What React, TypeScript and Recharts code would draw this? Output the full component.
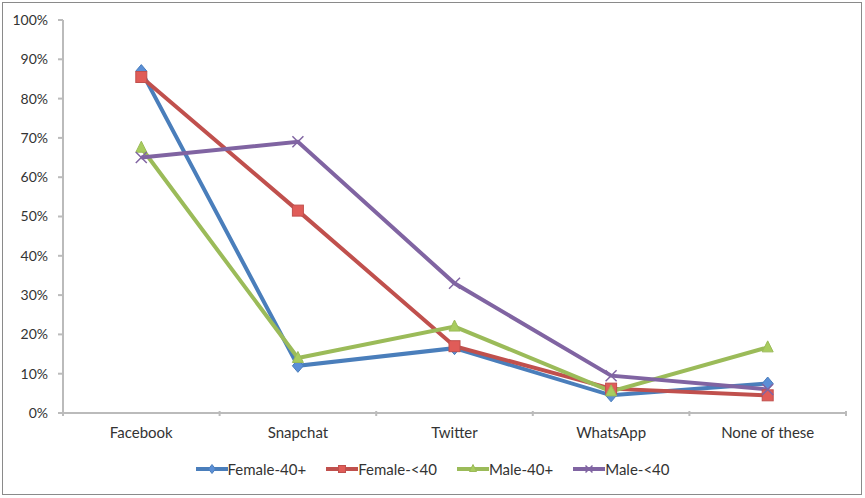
import React from 'react';
import { LineChart, Line, XAxis, YAxis } from 'recharts';

const categories = ['Facebook', 'Snapchat', 'Twitter', 'WhatsApp', 'None of these'];
const female40plus = [0.87, 0.12, 0.165, 0.045, 0.075];
const femaleUnder40 = [0.855, 0.515, 0.17, 0.062, 0.045];
const male40plus = [0.675, 0.14, 0.22, 0.055, 0.167];
const maleUnder40 = [0.65, 0.69, 0.33, 0.095, 0.06];
const yTicks = [0, 0.1, 0.2, 0.3, 0.4, 0.5, 0.6, 0.7, 0.8, 0.9, 1];

const seriesList = [
  { key: 'f40p', name: 'Female-40+', values: female40plus, color: '#4A7EBB', fill: '#5B8FD6', shape: 'diamond' },
  { key: 'f40m', name: 'Female-<40', values: femaleUnder40, color: '#C0504D', fill: '#E05C58', shape: 'square' },
  { key: 'm40p', name: 'Male-40+', values: male40plus, color: '#9BBB59', fill: '#A8CC5E', shape: 'triangle' },
  { key: 'm40m', name: 'Male-<40', values: maleUnder40, color: '#8064A2', fill: '#8C6FB3', shape: 'cross' },
];

const data = categories.map((name, i) => {
  const row: any = { name };
  seriesList.forEach((s) => {
    row[s.key] = s.values[i];
  });
  return row;
});

const W = 865;
const H = 498;
const LEFT = 63;
const RIGHT = 19;
const BAND = (W - LEFT - RIGHT) / categories.length;
const FONT = 'Lato, "Open Sans", sans-serif';

// marker shapes shared by dots and legend
const Marker = ({ cx, cy, shape, color, fill, r = 5.5 }: any) => {
  if (cx == null || cy == null) return null;
  if (shape === 'diamond') {
    return (
      <polygon
        points={`${cx},${cy - r - 1} ${cx + r},${cy} ${cx},${cy + r + 1} ${cx - r},${cy}`}
        fill={fill}
        stroke={color}
        strokeWidth={1}
      />
    );
  }
  if (shape === 'square') {
    return <rect x={cx - r} y={cy - r} width={r * 2} height={r * 2} fill={fill} stroke={color} strokeWidth={1} />;
  }
  if (shape === 'triangle') {
    return (
      <polygon
        points={`${cx},${cy - r - 1} ${cx + r},${cy + r - 1} ${cx - r},${cy + r - 1}`}
        fill={fill}
        stroke={color}
        strokeWidth={1}
      />
    );
  }
  return (
    <g stroke={color} strokeWidth={1.5}>
      <line x1={cx - r} y1={cy - r} x2={cx + r} y2={cy + r} />
      <line x1={cx - r} y1={cy + r} x2={cx + r} y2={cy - r} />
    </g>
  );
};

const makeDot = (s: any) => (props: any) => (
  <Marker key={`${s.key}-${props.index}`} cx={props.cx} cy={props.cy} shape={s.shape} color={s.color} fill={s.fill} />
);

// category label plus tick marks at the band edges, like Excel
const XTick = ({ x, y, payload, index }: any) => {
  const axisY = y - 8;
  return (
    <g>
      <line x1={x - BAND / 2} y1={axisY} x2={x - BAND / 2} y2={axisY + 5} stroke="#BBBBBB" strokeWidth={2} />
      {index === categories.length - 1 && (
        <line x1={x + BAND / 2} y1={axisY} x2={x + BAND / 2} y2={axisY + 5} stroke="#BBBBBB" strokeWidth={2} />
      )}
      <text x={x} y={axisY + 27} textAnchor="middle" fill="#333333" fontSize={15} fontFamily={FONT}>
        {payload.value}
      </text>
    </g>
  );
};

const LegendContent = () => (
  <div
    style={{
      display: 'flex',
      justifyContent: 'center',
      gap: 20,
      fontFamily: FONT,
      fontSize: 15,
      color: '#333333',
    }}
  >
    {seriesList.map((s) => (
      <div key={s.key} style={{ display: 'flex', alignItems: 'center' }}>
        <svg width={32} height={12}>
          <line x1={0} y1={6} x2={32} y2={6} stroke={s.color} strokeWidth={4} />
          <Marker cx={16} cy={6} shape={s.shape} color={s.color} fill={s.fill} r={3.5} />
        </svg>
        <span>{s.name}</span>
      </div>
    ))}
  </div>
);

export default function App() {
  return (
    <div style={{ position: 'absolute', left: 0, top: 0, width: W, height: H, background: '#fff' }}>
      <div
        style={{
          position: 'absolute',
          left: 2,
          top: 2,
          width: W - 5,
          height: H - 5,
          border: '1px solid #8A8A8A',
          boxSizing: 'border-box',
        }}
      />
      <LineChart width={W} height={H} data={data} margin={{ top: 20, right: RIGHT, left: 10, bottom: 50 }}>
        <XAxis
          dataKey="name"
          axisLine={{ stroke: '#BBBBBB', strokeWidth: 2 }}
          tickLine={false}
          tick={<XTick />}
          interval={0}
          height={35}
          tickMargin={0}
          padding={{ left: BAND / 2, right: BAND / 2 }}
        />
        <YAxis
          width={53}
          domain={[0, 1]}
          ticks={yTicks}
          tickFormatter={(v) => `${Math.round(v * 100)}%`}
          axisLine={{ stroke: '#BBBBBB', strokeWidth: 2 }}
          tickLine={{ stroke: '#BBBBBB', strokeWidth: 2 }}
          tickSize={5}
          tickMargin={10}
          tick={{ fill: '#333333', fontSize: 14, fontFamily: FONT }}
          interval={0}
        />
        {seriesList.map((s) => (
          <Line
            key={s.key}
            type="linear"
            dataKey={s.key}
            name={s.name}
            stroke={s.color}
            strokeWidth={4}
            dot={makeDot(s)}
            activeDot={false}
            isAnimationActive={false}
          />
        ))}
      </LineChart>
      <div style={{ position: 'absolute', left: 0, top: 460, width: W }}>
        <LegendContent />
      </div>
    </div>
  );
}
